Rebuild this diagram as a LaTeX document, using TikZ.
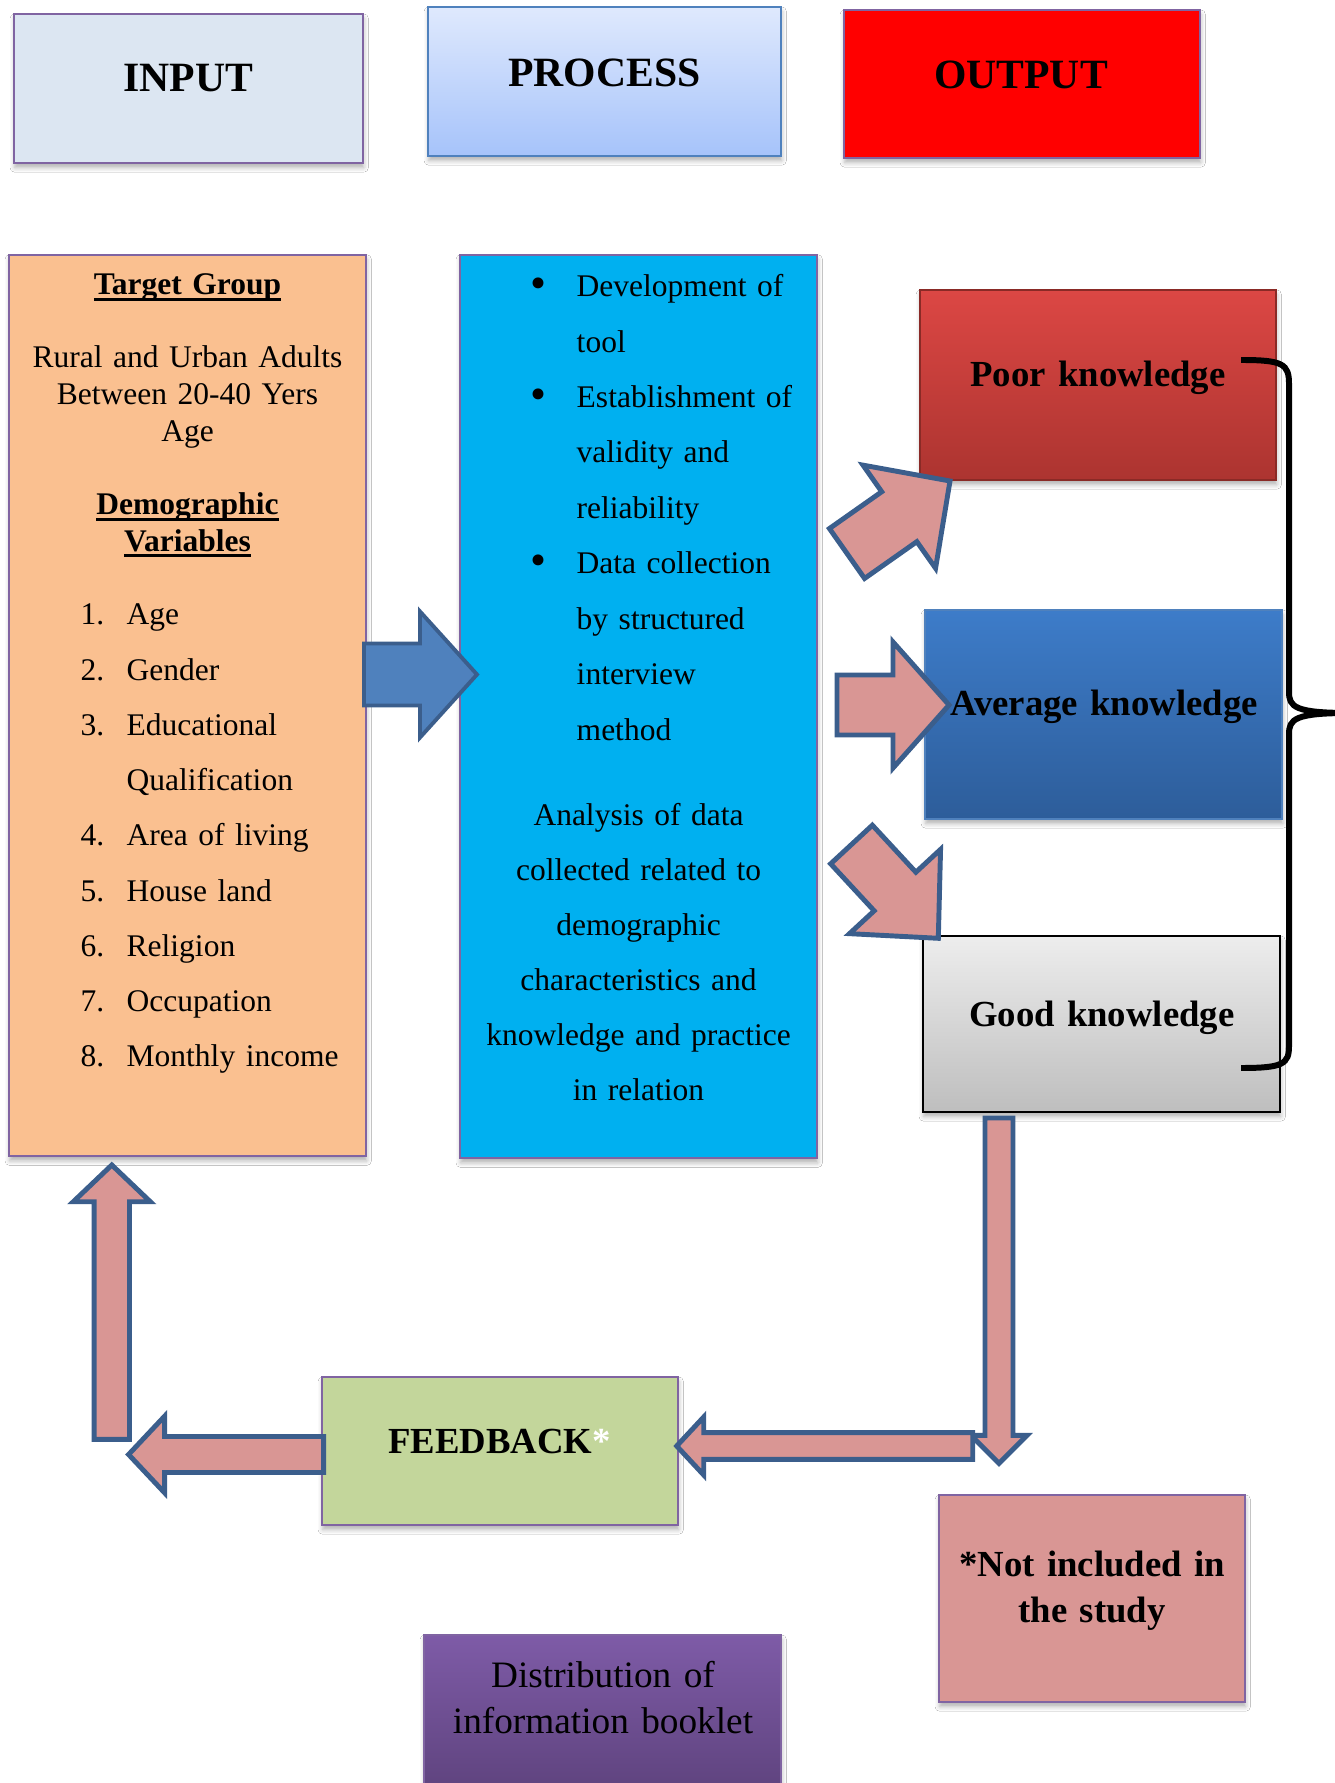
\documentclass[tikz,border=0pt]{standalone}
\usepackage{fontspec}
\usepackage{graphicx}
\setmainfont{Liberation Serif}
\usetikzlibrary{calc,shadows.blur}

\definecolor{inputbg}{HTML}{DCE6F2}
\definecolor{boxline}{HTML}{8064A2}
\definecolor{processtop}{HTML}{DFE9FD}
\definecolor{processbot}{HTML}{A6C3FA}
\definecolor{processline}{HTML}{4F81BD}
\definecolor{targetbg}{HTML}{FAC090}
\definecolor{stepsbg}{HTML}{00B0F0}
\definecolor{poortop}{HTML}{DC4744}
\definecolor{poorbot}{HTML}{AC3430}
\definecolor{avgtop}{HTML}{3D7CC9}
\definecolor{avgbot}{HTML}{2D5D9A}
\definecolor{goodtop}{HTML}{EDEDED}
\definecolor{goodbot}{HTML}{BEBEBE}
\definecolor{arrowbg}{HTML}{D99694}
\definecolor{arrowline}{HTML}{3B5E8C}
\definecolor{bigarrow}{HTML}{4F81BD}
\definecolor{feedbg}{HTML}{C3D69B}
\definecolor{booktop}{HTML}{7E5BA7}
\definecolor{bookbot}{HTML}{5D427C}

% fat arrow: tail centre #2, tip #3, shaft half width #4, head half width #5, head length #6
\newcommand{\blockarrow}[6][]{%
  \coordinate (hb) at ($(#3)!#6!(#2)$);
  \draw[barrow,#1] ($(#2)!#4!90:(#3)$) -- ($(hb)!#4!90:(#3)$) -- ($(hb)!#5!90:(#3)$)
    -- (#3) -- ($(hb)!#5!-90:(#3)$) -- ($(hb)!#4!-90:(#3)$) -- ($(#2)!#4!-90:(#3)$) -- cycle;}
\newcommand{\ulined}[1]{\leavevmode\setbox0=\hbox{#1}\rlap{\rule[-1.6pt]{\wd0}{0.8pt}}\box0}
\newcommand{\itm}[1]{\makebox[0.46cm][l]{#1}}
\newcommand{\bul}{\itm{\raisebox{-0.45pt}{\scalebox{1.45}{\textbullet}}}}

\begin{document}
\begin{tikzpicture}[x=0.01cm,y=-0.01cm,
	panel/.style={rectangle,draw=boxline,line width=0.6pt,inner sep=0pt,
		blur shadow={shadow xshift=0.2pt,shadow yshift=-1.3pt,shadow blur radius=1.3pt,shadow opacity=30}},
	barrow/.style={fill=arrowbg,draw=arrowline,line width=1.4pt,line join=miter},
	headtxt/.style={font=\fontsize{11.85}{14}\selectfont\bfseries,inner sep=0pt,anchor=base},
	lab/.style={font=\fontsize{10.45}{13.3}\selectfont\bfseries,inner sep=0pt,anchor=base,text width=#1,align=center},
	lab/.default=3.4cm,
	body/.style={font=\fontsize{8.96}{10.5}\selectfont,inner sep=0pt,anchor=base,text width=#1,align=center},
	body/.default=3.4cm,
	lines/.style={font=\fontsize{8.96}{15.7}\selectfont,inner sep=0pt,anchor=base west,text width=#1,align=left},
	lines/.default=2.85cm]
		\path[use as bounding box,fill=white] (0,0) rectangle (1334,1783);
		
		\node[panel,fill=inputbg,minimum width=3.49cm,minimum height=1.49cm] (input) at (188.5,88.5) {};
		\node[panel,draw=processline,top color=processtop,bottom color=processbot,minimum width=3.53cm,minimum height=1.49cm] (process) at (604.5,81.5) {};
		\node[panel,fill=red,minimum width=3.56cm,minimum height=1.48cm] (output) at (1022,84) {};
		\node[headtxt] (inputlbl) at (188.5,91.7) {INPUT};
		\node[headtxt] (processlbl) at (604.5,86.7) {PROCESS};
		\node[headtxt] (outputlbl) at (1021,89) {OUTPUT};
		
		\node[panel,fill=targetbg,minimum width=3.57cm,minimum height=9.01cm] (target) at (187.5,705.5) {};
		\node[panel,fill=stepsbg,minimum width=3.57cm,minimum height=9.03cm] (steps) at (638.5,706.5) {};
		\node[panel,draw=poorbot!80!black,top color=poortop,bottom color=poorbot,minimum width=3.56cm,minimum height=1.9cm] (poor) at (1098,385) {};
		\node[panel,draw=processline,top color=avgtop,bottom color=avgbot,minimum width=3.57cm,minimum height=2.09cm] (average) at (1103.5,714.5) {};
		\node[panel,draw=black,top color=goodtop,bottom color=goodbot,minimum width=3.57cm,minimum height=1.76cm] (good) at (1101.5,1024) {};
		\node[panel,fill=feedbg,minimum width=3.56cm,minimum height=1.48cm] (feedback) at (500,1451) {};
		\node[panel,fill=arrowbg,minimum width=3.06cm,minimum height=2.07cm] (note) at (1092,1598.5) {};
		\node[panel,top color=booktop,bottom color=bookbot,minimum width=3.57cm,minimum height=1.65cm] (booklet) at (602.5,1717.5) {};
		
		\node[body,font=\fontsize{8.96}{10.5}\selectfont\bfseries] (tgtitle) at (187.5,295) {\ulined{Target Group}};
		\node[body,font=\fontsize{8.96}{10.49}\selectfont] (tgroup) at (187.5,367.3) {Rural and Urban Adults\\Between 20-40 Yers\\Age};
		\node[body,font=\fontsize{8.96}{10.4}\selectfont\bfseries] (demo) at (187.5,515) {\ulined{Demographic}\\\ulined{Variables}};
		\node[lines=2.8cm] (vars) at (80,625) {\itm{1.}Age\\\itm{2.}Gender\\\itm{3.}Educational\\\hspace*{0.46cm}Qualification\\\itm{4.}Area of living\\\itm{5.}House land\\\itm{6.}Religion\\\itm{7.}Occupation\\\itm{8.}Monthly income};
		
		\node[lines,font=\fontsize{8.96}{15.76}\selectfont] (stepslist) at (530,296.7) {\bul Development of\\\hspace*{0.46cm}tool\\\bul Establishment of\\\hspace*{0.46cm}validity and\\\hspace*{0.46cm}reliability\\\bul Data collection\\\hspace*{0.46cm}by structured\\\hspace*{0.46cm}interview\\\hspace*{0.46cm}method};
		\node[body=3.3cm,font=\fontsize{8.96}{15.68}\selectfont] (analysis) at (638.5,825) {Analysis of data\\collected related to\\demographic\\characteristics and\\knowledge and practice\\in relation};
		
		\node[lab] (poorlbl) at (1098,387) {Poor knowledge};
		\node[lab=3.5cm] (avglbl) at (1104,716) {Average knowledge};
		\node[lab] (goodlbl) at (1101.8,1026.7) {Good knowledge};
		\node[lab] (feedlbl) at (499.5,1453) {FEEDBACK\textcolor{white}{*}};
		\node[lab=2.9cm] (notelbl) at (1092,1576) {*Not included in\\the study};
		\node[lab=3.4cm,font=\fontsize{10.6}{13.32}\selectfont] (booklbl) at (603,1687) {Distribution of\\information booklet};
		
		\coordinate (a1s) at (364,674.5); \coordinate (a1e) at (477,674.5);
		\coordinate (a2s) at (847,553.5); \coordinate (a2e) at (950,481);
		\coordinate (a3s) at (837,705); \coordinate (a3e) at (949,705);
		\coordinate (a4s) at (851.5,844.5); \coordinate (a4e) at (938.3,938.3);
		\coordinate (a5s) at (999,1118); \coordinate (a5e) at (999,1463.3);
		\coordinate (a6s) at (972.7,1446); \coordinate (a6e) at (676.7,1446);
		\coordinate (a7s) at (323.7,1454.5); \coordinate (a7e) at (128.6,1454.5);
		\coordinate (a8s) at (111.8,1439.3); \coordinate (a8e) at (111.8,1165);
		\blockarrow[fill=bigarrow,line width=1.1pt]{a1s}{a1e}{0.31cm}{0.63cm}{0.57cm}
		\blockarrow{a2s}{a2e}{0.305cm}{0.63cm}{0.62cm}
		\blockarrow{a3s}{a3e}{0.30cm}{0.63cm}{0.56cm}
		\blockarrow{a4s}{a4e}{0.284cm}{0.62cm}{0.637cm}
		\blockarrow{a5s}{a5e}{0.14cm}{0.28cm}{0.28cm}
		\blockarrow{a6s}{a6e}{0.133cm}{0.29cm}{0.27cm}
		\blockarrow{a7s}{a7e}{0.18cm}{0.383cm}{0.36cm}
		\blockarrow{a8s}{a8e}{0.177cm}{0.385cm}{0.367cm}
		
		\draw[line width=1.7pt] (1241,360) .. controls (1283,360) and (1289,364) .. (1289,384) -- (1289,692) .. controls (1289,707) and (1295,713) .. (1350,713)
			(1350,713) .. controls (1295,713) and (1289,719) .. (1289,734) -- (1289,1046) .. controls (1289,1064) and (1283,1068) .. (1241,1068);
\end{tikzpicture}
\end{document}
